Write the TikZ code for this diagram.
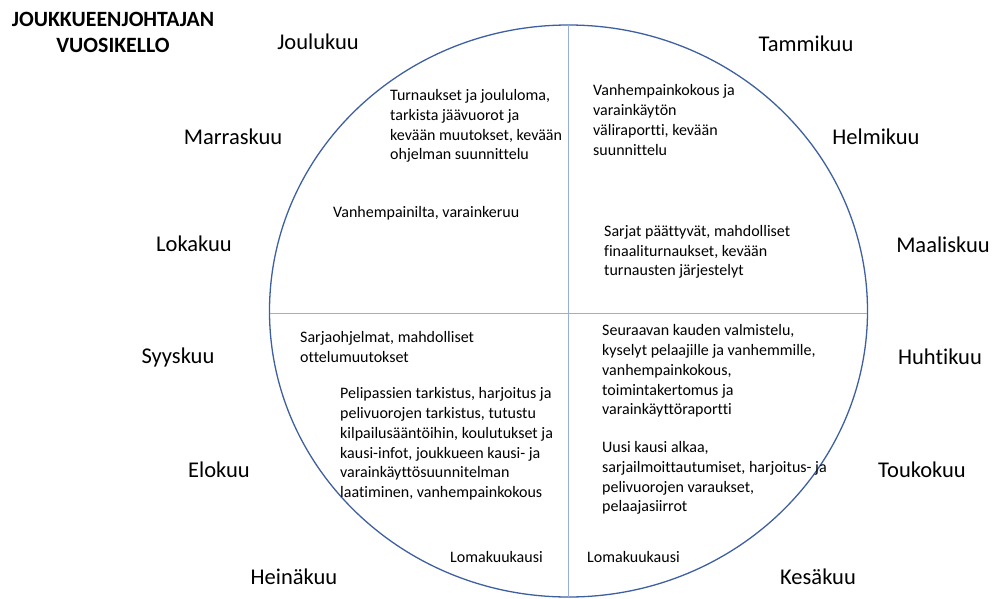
\documentclass[tikz,border=0pt]{standalone}
\usepackage{fontspec}
\usetikzlibrary{shapes.geometric}
\setmainfont{Carlito}[Ligatures={NoCommon}]
\definecolor{ring}{RGB}{62,95,160}
\definecolor{cross}{RGB}{150,175,220}
\begin{document}
\begin{tikzpicture}[x=1pt,y=-1pt,
  month/.style={font=\fontsize{22.5}{26}\selectfont, inner sep=0pt, anchor=center},
  info/.style={font=\fontsize{16}{19.8}\selectfont, inner sep=0pt, align=left, anchor=west},
  title/.style={font=\bfseries\fontsize{21.8}{26}\selectfont, inner sep=0pt, align=center}]
\useasboundingbox (0,0) rectangle (997,598);
% wheel
\node[draw=ring, line width=1.3pt, ellipse, minimum width=598pt, minimum height=572pt, inner sep=0pt] (wheel) at (568.5,311) {};
\coordinate (top) at (568,25);
\coordinate (bot) at (568,597);
\coordinate (lft) at (270,313);
\coordinate (rgt) at (867,313);
\draw[cross, line width=0.8pt] (top) -- (bot);
\draw[cross, line width=0.8pt] (lft) -- (rgt);
% title
\node[title] (t) at (113,32) {JOUKKUEENJOHTAJAN\\VUOSIKELLO};
% months
\node[month] (m12) at (318,42) {Joulukuu};
\node[month] (m1) at (806,44) {Tammikuu};
\node[month] (m11) at (233,137) {Marraskuu};
\node[month] (m2) at (876,137) {Helmikuu};
\node[month] (m10) at (194,244) {Lokakuu};
\node[month] (m3) at (943,245) {Maaliskuu};
\node[month] (m9) at (178,357) {Syyskuu};
\node[month] (m4) at (940,357) {Huhtikuu};
\node[month] (m8) at (219,470) {Elokuu};
\node[month] (m5) at (922,470) {Toukokuu};
\node[month] (m7) at (294,577) {Heinäkuu};
\node[month] (m6) at (818,577) {Kesäkuu};
% info blocks
\node[info] (a1) at (390,126) {Turnaukset ja joululoma,\\tarkista jäävuorot ja\\kevään muutokset, kevään\\ohjelman suunnittelu};
\node[info] (a2) at (333,213) {Vanhempainilta, varainkeruu};
\node[info] (b1) at (593,120) {Vanhempainkokous ja\\varainkäytön\\väliraportti, kevään\\suunnittelu};
\node[info] (b2) at (604,252) {Sarjat päättyvät, mahdolliset\\finaaliturnaukset, kevään\\turnausten järjestelyt};
\node[info] (c1) at (300,347) {Sarjaohjelmat, mahdolliset\\ottelumuutokset};
\node[info] (c2) at (340,444) {Pelipassien tarkistus, harjoitus ja\\pelivuorojen tarkistus, tutustu\\kilpailusääntöihin, koulutukset ja\\kausi-infot, joukkueen kausi- ja\\varainkäyttösuunnitelman\\laatiminen, vanhempainkokous};
\node[info] (d1) at (602,371) {Seuraavan kauden valmistelu,\\kyselyt pelaajille ja vanhemmille,\\vanhempainkokous,\\toimintakertomus ja\\varainkäyttöraportti};
\node[info] (d2) at (602,478) {Uusi kausi alkaa,\\sarjailmoittautumiset, harjoitus- ja\\pelivuorojen varaukset,\\pelaajasiirrot};
\node[info] (c3) at (450,557) {Lomakuukausi};
\node[info] (d3) at (587,557) {Lomakuukausi};
\end{tikzpicture}
\end{document}
